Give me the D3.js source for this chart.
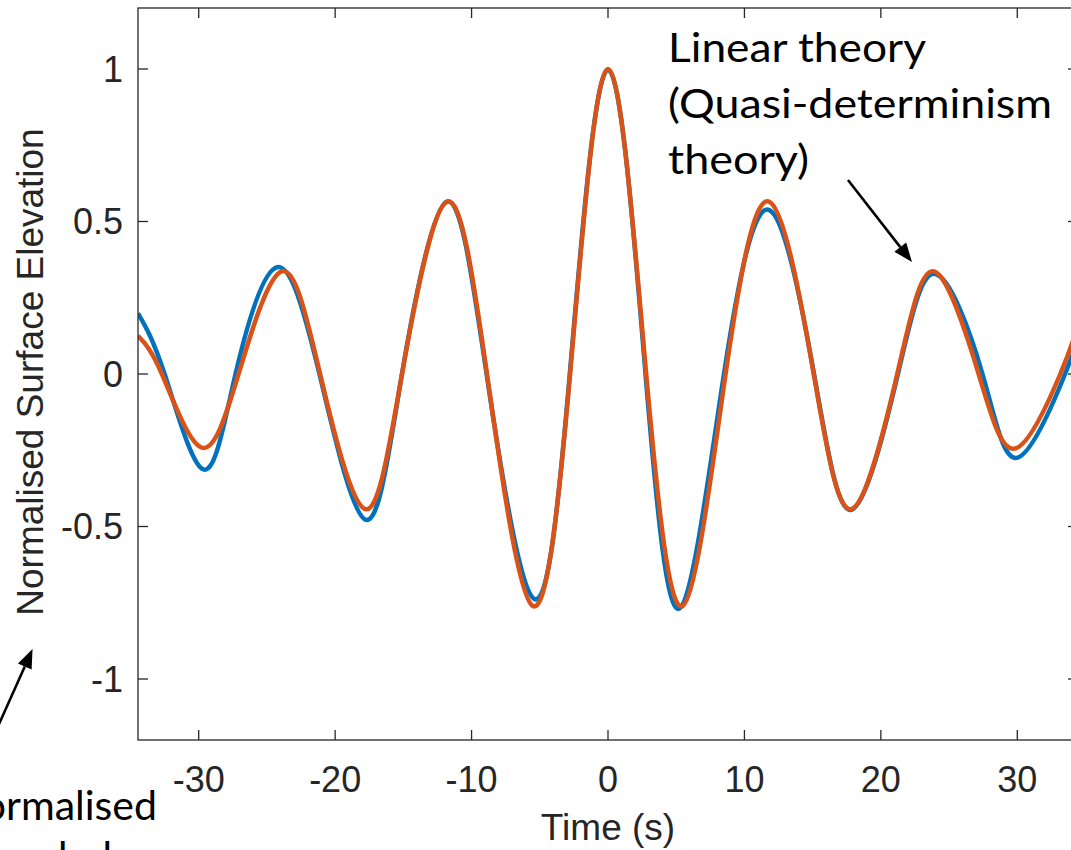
<!DOCTYPE html>
<html>
<head>
<meta charset="utf-8">
<script src="https://cdn.jsdelivr.net/npm/d3@7"></script>
<style>
  html, body { margin: 0; padding: 0; background: #ffffff; }
  svg { display: block; }
</style>
</head>
<body>
<svg id="chart" width="1071" height="850"></svg>
<script>
// Normalised measured surface elevation (extrema and zero crossings), time in s
const measuredTime = [-34.45, -32.5, -29.65, -27.3, -24.25, -21.15, -17.75, -15.1, -11.8, -8.9, -5.42, -2.8, 0, 2.75, 5.27, 8.5, 11.8, 15.1, 17.85, 21.25, 24.0, 27.45, 30.03, 33.5, 34.45];
const measuredElev = [0.199, 0, -0.313, 0, 0.350, 0, -0.478, 0, 0.565, 0, -0.737, 0, 0.997, 0, -0.768, 0, 0.538, 0, -0.445, 0, 0.328, 0, -0.274, 0, 0.125];

// Linear (quasi-determinism) theory
const linearTime = [-34.45, -32.7, -29.8, -27.08, -23.9, -21.1, -17.8, -15.1, -11.8, -8.87, -5.52, -2.78, 0, 2.8, 5.48, 8.62, 11.8, 15.08, 17.85, 21.2, 23.9, 27.17, 29.87, 33.15, 34.45];
const linearElev = [0.125, 0, -0.241, 0, 0.337, 0, -0.443, 0, 0.565, 0, -0.760, 0, 1.0, 0, -0.760, 0, 0.565, 0, -0.443, 0, 0.336, 0, -0.244, 0, 0.160];

const xTicks = [-30, -20, -10, 0, 10, 20, 30];
const yTicks = [-1, -0.5, 0, 0.5, 1];
const yTickLabels = ["-1", "-0.5", "0", "0.5", "1"];

const xDomain = [-34.45, 34.45];
const yDomain = [-1.2, 1.2];

const seriesColors = { measured: "#0072BD", linear: "#D95319" };

const svg = d3.select("#chart");
const W = 1071, H = 850;
const plot = { left: 138, right: 1078, top: 8, bottom: 740 };

svg.append("rect").attr("width", W).attr("height", H).attr("fill", "#ffffff");

const x = d3.scaleLinear().domain(xDomain).range([plot.left, plot.right]);
const y = d3.scaleLinear().domain(yDomain).range([plot.bottom, plot.top]);

const axisColor = "#262626";
const tickFont = "'Liberation Sans', Arial, Helvetica, sans-serif";

// clip region for the traces
svg.append("defs").append("clipPath").attr("id", "plotClip")
  .append("rect")
  .attr("x", plot.left).attr("y", plot.top)
  .attr("width", plot.right - plot.left).attr("height", plot.bottom - plot.top);

// traces
const line = d3.line()
  .x(d => x(d[0]))
  .y(d => y(d[1]))
  .curve(d3.curveNatural);

const traces = svg.append("g").attr("clip-path", "url(#plotClip)");
traces.append("path")
  .datum(d3.zip(measuredTime, measuredElev))
  .attr("d", line)
  .attr("fill", "none")
  .attr("stroke", seriesColors.measured)
  .attr("stroke-width", 4.5)
  .attr("stroke-linejoin", "round");
traces.append("path")
  .datum(d3.zip(linearTime, linearElev))
  .attr("d", line)
  .attr("fill", "none")
  .attr("stroke", seriesColors.linear)
  .attr("stroke-width", 4.5)
  .attr("stroke-linejoin", "round");

// axes box with inward ticks on all four sides
const axes = svg.append("g");
axes.append("rect")
  .attr("x", plot.left).attr("y", plot.top)
  .attr("width", plot.right - plot.left).attr("height", plot.bottom - plot.top)
  .attr("fill", "none").attr("stroke", axisColor).attr("stroke-width", 1.3);

const tickLen = 10;
xTicks.forEach(t => {
  const px = x(t);
  axes.append("line").attr("x1", px).attr("x2", px)
    .attr("y1", plot.bottom).attr("y2", plot.bottom - tickLen)
    .attr("stroke", axisColor).attr("stroke-width", 1.3);
  axes.append("line").attr("x1", px).attr("x2", px)
    .attr("y1", plot.top).attr("y2", plot.top + tickLen)
    .attr("stroke", axisColor).attr("stroke-width", 1.3);
  axes.append("text")
    .attr("x", px).attr("y", 792)
    .attr("text-anchor", "middle")
    .attr("font-family", tickFont).attr("font-size", 36)
    .attr("fill", axisColor)
    .text(String(t));
});

yTicks.forEach((v, i) => {
  const py = y(v);
  axes.append("line").attr("x1", plot.left).attr("x2", plot.left + tickLen)
    .attr("y1", py).attr("y2", py)
    .attr("stroke", axisColor).attr("stroke-width", 1.3);
  axes.append("line").attr("x1", plot.right).attr("x2", plot.right - tickLen)
    .attr("y1", py).attr("y2", py)
    .attr("stroke", axisColor).attr("stroke-width", 1.3);
  axes.append("text")
    .attr("x", 123).attr("y", py + 12.5)
    .attr("text-anchor", "end")
    .attr("font-family", tickFont).attr("font-size", 36)
    .attr("fill", axisColor)
    .text(yTickLabels[i]);
});

// axis titles
svg.append("text")
  .attr("x", 608).attr("y", 840)
  .attr("text-anchor", "middle")
  .attr("font-family", tickFont).attr("font-size", 37)
  .attr("fill", axisColor)
  .text("Time (s)");

svg.append("text")
  .attr("transform", "translate(43,372) rotate(-90)")
  .attr("text-anchor", "middle")
  .attr("font-family", tickFont).attr("font-size", 37)
  .attr("fill", axisColor)
  .text("Normalised Surface Elevation");

// annotations (positions in data units)
const noteFont = "Lato, 'Open Sans', 'Noto Sans', sans-serif";
const linearNote = ["Linear theory", "(Quasi-determinism", "theory)"];
const linearNoteLengths = [258, 384, 141];
const linearNoteAnchor = { t: 4.40, v: [1.023, 0.839, 0.656] };

linearNote.forEach((s, i) => {
  svg.append("text")
    .attr("x", x(linearNoteAnchor.t)).attr("y", y(linearNoteAnchor.v[i]))
    .attr("font-family", noteFont).attr("font-size", 41)
    .attr("fill", "#000000")
    .attr("textLength", linearNoteLengths[i])
    .attr("lengthAdjust", "spacingAndGlyphs")
    .text(s);
});

const measuredNote = ["Normalised", "recorded"];
const measuredNoteAnchor = { tEnd: -33.06, v: [-1.462, -1.630] };
const note1 = svg.append("text")
  .attr("x", x(measuredNoteAnchor.tEnd)).attr("y", y(measuredNoteAnchor.v[0]))
  .attr("text-anchor", "end")
  .attr("font-family", noteFont).attr("font-size", 41)
  .attr("fill", "#000000")
  .text(measuredNote[0]);
const startX = x(measuredNoteAnchor.tEnd) - note1.node().getComputedTextLength();
svg.append("text")
  .attr("x", startX).attr("y", y(measuredNoteAnchor.v[1]))
  .attr("font-family", noteFont).attr("font-size", 41)
  .attr("fill", "#000000")
  .text(measuredNote[1]);

// arrows
const arrows = [
  { from: [17.59, 0.636], to: [22.28, 0.367] },
  { from: [-44.93, -1.177], to: [-42.18, -0.902] }
];
arrows.forEach(a => {
  const x1 = x(a.from[0]), y1 = y(a.from[1]);
  const x2 = x(a.to[0]), y2 = y(a.to[1]);
  const ang = Math.atan2(y2 - y1, x2 - x1);
  const headLen = 19, headHalf = 7.5;
  const bx = x2 - headLen * Math.cos(ang), by = y2 - headLen * Math.sin(ang);
  svg.append("line")
    .attr("x1", x1).attr("y1", y1).attr("x2", bx).attr("y2", by)
    .attr("stroke", "#000000").attr("stroke-width", 2.6);
  const px = -Math.sin(ang), py = Math.cos(ang);
  svg.append("path")
    .attr("d", `M${x2},${y2}L${bx + px * headHalf},${by + py * headHalf}L${bx - px * headHalf},${by - py * headHalf}Z`)
    .attr("fill", "#000000");
});
</script>
</body>
</html>
